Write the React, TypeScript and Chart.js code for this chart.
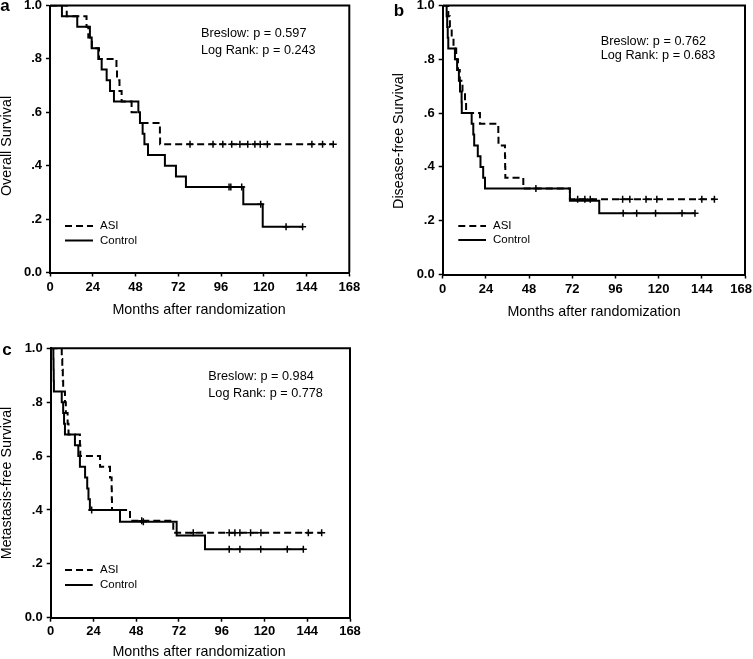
import React, { useEffect, useRef } from 'react';
import { Chart, registerables } from 'chart.js';
Chart.register(...registerables);

const FONT = '"Liberation Sans", Arial, Helvetica, sans-serif';

// ---- shared axis / legend data ----
const xTicks = [0, 24, 48, 72, 96, 120, 144, 168];
const xMax = 168;
const yTicks = [0, 0.2, 0.4, 0.6, 0.8, 1.0];
const yTickLabels = ['0.0', '.2', '.4', '.6', '.8', '1.0'];
const seriesNames = ['ASI', 'Control'];
const xAxisTitle = 'Months after randomization';

// ---- Panel a: Overall survival ----
const osAsiTimes = [0, 9.4, 20.5, 21.5, 23.5, 27.5, 37.3, 37.6, 39, 40.2, 45.8, 50.5, 61.7, 61.8];
const osAsiSurv = [1, 0.96, 0.92, 0.88, 0.84, 0.8, 0.76, 0.72, 0.68, 0.64, 0.6, 0.56, 0.52, 0.48];
const osAsiCensored = [78.6, 91.5, 97, 102, 106.6, 111, 115, 118, 122, 147, 153, 159];
const osCtrlTimes = [0, 6.7, 15.3, 22.4, 23.4, 27.1, 29, 31.8, 33.7, 35.9, 49.6, 50.5, 52, 53, 55, 64.5, 70.7, 76.3, 108.5, 119.4];
const osCtrlSurv = [1, 0.96, 0.92, 0.88, 0.84, 0.8, 0.76, 0.72, 0.68, 0.64, 0.6, 0.56, 0.52, 0.48, 0.44, 0.4, 0.36, 0.32, 0.256, 0.171];
const osCtrlCensored = [100.5, 101.5, 107.6, 118.3, 132.5, 141.8];
const osStats = ['Breslow: p = 0.597', 'Log Rank: p = 0.243'];

// ---- Panel b: Disease-free survival ----
const dfsAsiTimes = [0, 3.1, 4, 5, 6, 7.5, 8.5, 9.5, 11, 12.4, 13, 20.7, 30.9, 31, 34.6, 34.7, 34.8, 44.8, 70.7];
const dfsAsiSurv = [1, 0.96, 0.92, 0.88, 0.84, 0.8, 0.76, 0.72, 0.68, 0.64, 0.6, 0.56, 0.52, 0.48, 0.44, 0.4, 0.36, 0.32, 0.28];
const dfsAsiCensored = [75, 79, 82, 100, 104, 113, 119, 144, 151];
const dfsCtrlTimes = [0, 2.2, 2.5, 2.8, 3.1, 6.8, 8, 9, 9.6, 10.5, 10.6, 16.1, 17, 17.5, 19.5, 21, 22.5, 23.5, 70.7, 87];
const dfsCtrlSurv = [1, 0.96, 0.92, 0.88, 0.84, 0.8, 0.76, 0.72, 0.68, 0.64, 0.6, 0.56, 0.52, 0.48, 0.44, 0.4, 0.36, 0.32, 0.274, 0.228];
const dfsCtrlCensored = [51.8, 100.3, 107.8, 118.3, 133, 140.2];
const dfsStats = ['Breslow: p = 0.762', 'Log Rank: p = 0.683'];

// ---- Panel c: Metastasis-free survival ----
const mfsAsiTimes = [0, 6.2, 6.5, 6.8, 7, 8, 8.5, 9.5, 10, 16.4, 16.6, 27.7, 33.3, 34.2, 34.3, 34.4, 44.5, 68.8];
const mfsAsiSurv = [1, 0.96, 0.92, 0.88, 0.84, 0.8, 0.76, 0.72, 0.68, 0.64, 0.6, 0.56, 0.52, 0.48, 0.44, 0.4, 0.36, 0.315];
const mfsAsiCensored = [51.1, 80, 100.2, 103.4, 106.2, 112.2, 118, 144.6, 152.1];
const mfsCtrlTimes = [0, 1.5, 1.6, 1.7, 1.8, 6.2, 7, 7.5, 8, 13.6, 15.5, 16.4, 19.3, 20.5, 21.2, 22, 38.9, 70.7, 86.6];
const mfsCtrlSurv = [1, 0.96, 0.92, 0.88, 0.84, 0.8, 0.76, 0.72, 0.68, 0.64, 0.6, 0.56, 0.52, 0.48, 0.44, 0.4, 0.356, 0.305, 0.254];
const mfsCtrlCensored = [23, 52, 100.2, 106.2, 117.9, 132.8, 141.8];
const mfsStats = ['Breslow: p = 0.984', 'Log Rank: p = 0.778'];

function survAt(times: number[], surv: number[], t: number) {
  let s = 1;
  for (let i = 0; i < times.length; i++) if (times[i] <= t) s = surv[i];
  return s;
}
function curve(times: number[], surv: number[], censored: number[]) {
  const pts = times.map((t, i) => ({ x: t, y: surv[i] }));
  const end = Math.max(times[times.length - 1], ...censored);
  pts.push({ x: end, y: surv[surv.length - 1] });
  return pts;
}
function marks(times: number[], surv: number[], censored: number[]) {
  return censored.map((t) => ({ x: t, y: survAt(times, surv, t) }));
}

type PanelDef = {
  letter: string;
  yTitle: string;
  stats: string[];
  asi: [number[], number[], number[]];
  ctrl: [number[], number[], number[]];
  box: { left: number; top: number; width: number; height: number; yAxisW: number; xAxisH: number; padTop: number; padRight: number };
  pos: {
    letter: [number, number];
    yTitle: [number, number];
    xTitle: [number, number];
    xLabelOffset: number;
    statsX: number;
    statsY: [number, number];
    legX0: number;
    legX1: number;
    legY: [number, number];
    legTextX: number;
  };
};

const panels: PanelDef[] = [
  {
    letter: 'a',
    yTitle: 'Overall Survival',
    stats: osStats,
    asi: [osAsiTimes, osAsiSurv, osAsiCensored],
    ctrl: [osCtrlTimes, osCtrlSurv, osCtrlCensored],
    box: { left: 0, top: 0, width: 366, height: 320, yAxisW: 50, xAxisH: 47.5, padTop: 5, padRight: 16.7 },
    pos: { letter: [5, 6], yTitle: [7.5, 146], xTitle: [199, 310], xLabelOffset: 14.5, statsX: 201, statsY: [33, 50.5], legX0: 65, legX1: 93, legY: [226, 240.5], legTextX: 100 },
  },
  {
    letter: 'b',
    yTitle: 'Disease-free Survival',
    stats: dfsStats,
    asi: [dfsAsiTimes, dfsAsiSurv, dfsAsiCensored],
    ctrl: [dfsCtrlTimes, dfsCtrlSurv, dfsCtrlCensored],
    box: { left: 378, top: 0, width: 375, height: 320, yAxisW: 64.7, xAxisH: 45.5, padTop: 5, padRight: 8 },
    pos: { letter: [399, 11], yTitle: [399, 141], xTitle: [594, 312], xLabelOffset: 15, statsX: 600.7, statsY: [41, 55.5], legX0: 458.3, legX1: 486, legY: [226, 240], legTextX: 493 },
  },
  {
    letter: 'c',
    yTitle: 'Metastasis-free Survival',
    stats: mfsStats,
    asi: [mfsAsiTimes, mfsAsiSurv, mfsAsiCensored],
    ctrl: [mfsCtrlTimes, mfsCtrlSurv, mfsCtrlCensored],
    box: { left: 0, top: 330, width: 366, height: 329, yAxisW: 50.7, xAxisH: 41.3, padTop: 18.3, padRight: 16 },
    pos: { letter: [7, 350], yTitle: [7.5, 483], xTitle: [199, 652], xLabelOffset: 14, statsX: 208.3, statsY: [376.7, 393.3], legX0: 65, legX1: 92.7, legY: [570, 585], legTextX: 100 },
  },
];

const DASH = [7, 4];

function Panel({ p }: { p: PanelDef }) {
  const ref = useRef<HTMLCanvasElement>(null);
  useEffect(() => {
    const canvas = ref.current!;
    const { box, pos } = p;
    const ox = box.left;
    const oy = box.top;
    const deco = {
      id: 'deco',
      afterDraw(chart: any) {
        const ctx = chart.ctx as CanvasRenderingContext2D;
        const a = chart.chartArea;
        ctx.save();
        ctx.strokeStyle = '#000';
        ctx.lineWidth = 2;
        ctx.beginPath();
        ctx.moveTo(a.left, a.top);
        ctx.lineTo(a.right, a.top);
        ctx.lineTo(a.right, a.bottom);
        ctx.stroke();
        ctx.fillStyle = '#000';
        ctx.textBaseline = 'middle';
        // x tick labels (kept inside the canvas)
        ctx.font = `bold 13px ${FONT}`;
        ctx.textAlign = 'center';
        const xs = chart.scales.x;
        for (const v of xTicks) {
          const s = String(v);
          const w = ctx.measureText(s).width;
          const px = Math.min(xs.getPixelForValue(v), box.width - w / 2 - 1);
          ctx.fillText(s, px, a.bottom + pos.xLabelOffset);
        }
        // letter
        ctx.font = `bold 17px ${FONT}`;
        ctx.fillText(p.letter, pos.letter[0] - ox, pos.letter[1] - oy);
        // x title
        ctx.font = `14.3px ${FONT}`;
        ctx.fillText(xAxisTitle, pos.xTitle[0] - ox, pos.xTitle[1] - oy);
        // y title
        ctx.save();
        ctx.translate(pos.yTitle[0] - ox, pos.yTitle[1] - oy);
        ctx.rotate(-Math.PI / 2);
        ctx.fillText(p.yTitle, 0, 0);
        ctx.restore();
        // stats
        ctx.font = `12.7px ${FONT}`;
        ctx.textAlign = 'left';
        ctx.fillText(p.stats[0], pos.statsX - ox, pos.statsY[0] - oy);
        ctx.fillText(p.stats[1], pos.statsX - ox, pos.statsY[1] - oy);
        // legend
        ctx.font = `11.5px ${FONT}`;
        for (let i = 0; i < 2; i++) {
          const y = pos.legY[i] - oy;
          ctx.beginPath();
          ctx.setLineDash(i === 0 ? DASH : []);
          ctx.lineWidth = 2;
          ctx.moveTo(pos.legX0 - ox, y);
          ctx.lineTo(pos.legX1 - ox, y);
          ctx.stroke();
          ctx.setLineDash([]);
          ctx.fillText(seriesNames[i], pos.legTextX - ox, y);
        }
        ctx.restore();
      },
    };
    const [aT, aS, aC] = p.asi;
    const [cT, cS, cC] = p.ctrl;
    const lineBase = { showLine: true, stepped: 'before' as const, borderColor: '#000', borderWidth: 2, pointRadius: 0, fill: false };
    const markBase = { showLine: false, pointStyle: 'cross' as const, pointRadius: 3.5, borderColor: '#000', backgroundColor: '#000', pointBorderWidth: 1.5, borderWidth: 1.5 };
    const chart = new Chart(canvas, {
      type: 'scatter',
      data: {
        datasets: [
          { label: seriesNames[0], data: curve(aT, aS, aC), ...lineBase, borderDash: DASH },
          { label: seriesNames[1], data: curve(cT, cS, cC), ...lineBase },
          { label: seriesNames[0] + ' censored', data: marks(aT, aS, aC), ...markBase },
          { label: seriesNames[1] + ' censored', data: marks(cT, cS, cC), ...markBase },
        ],
      } as any,
      options: {
        animation: false,
        responsive: false,
        events: [],
        layout: { padding: { top: box.padTop, right: box.padRight, left: 0, bottom: 0 } },
        plugins: { legend: { display: false }, tooltip: { enabled: false }, title: { display: false } },
        scales: {
          x: {
            type: 'linear',
            min: 0,
            max: xMax,
            afterFit(s: any) {
              s.height = box.xAxisH;
              s.paddingLeft = 0;
              s.paddingRight = 0;
              s.paddingTop = 0;
              s.paddingBottom = 0;
            },
            afterBuildTicks(s: any) {
              s.ticks = xTicks.map((v) => ({ value: v }));
            },
            ticks: { display: false, autoSkip: false, maxRotation: 0 },
            grid: { display: true, drawOnChartArea: false, drawTicks: true, tickLength: 4, tickColor: '#000', tickWidth: 1.5 },
            border: { display: true, color: '#000', width: 2 },
          },
          y: {
            type: 'linear',
            min: 0,
            max: 1,
            afterFit(s: any) {
              s.width = box.yAxisW;
              s.paddingLeft = 0;
              s.paddingRight = 0;
              s.paddingTop = 0;
              s.paddingBottom = 0;
            },
            afterBuildTicks(s: any) {
              s.ticks = yTicks.map((v) => ({ value: v }));
            },
            ticks: {
              color: '#000',
              padding: 4,
              font: { family: FONT, size: 13, weight: 'bold' },
              callback: (v: any) => {
                const i = yTicks.findIndex((t) => Math.abs(t - Number(v)) < 1e-6);
                return i >= 0 ? yTickLabels[i] : '';
              },
            },
            grid: { display: true, drawOnChartArea: false, drawTicks: true, tickLength: 4, tickColor: '#000', tickWidth: 1.5 },
            border: { display: true, color: '#000', width: 2 },
          },
        },
      } as any,
      plugins: [deco],
    });
    return () => chart.destroy();
  }, [p]);
  const { box } = p;
  return (
    <canvas
      ref={ref}
      width={box.width}
      height={box.height}
      style={{ position: 'absolute', left: box.left, top: box.top, width: box.width, height: box.height }}
    />
  );
}

export default function App() {
  return (
    <div style={{ position: 'absolute', left: 0, top: 0, width: 753, height: 659, background: '#fff', overflow: 'hidden' }}>
      {panels.map((p) => (
        <Panel key={p.letter} p={p} />
      ))}
    </div>
  );
}
